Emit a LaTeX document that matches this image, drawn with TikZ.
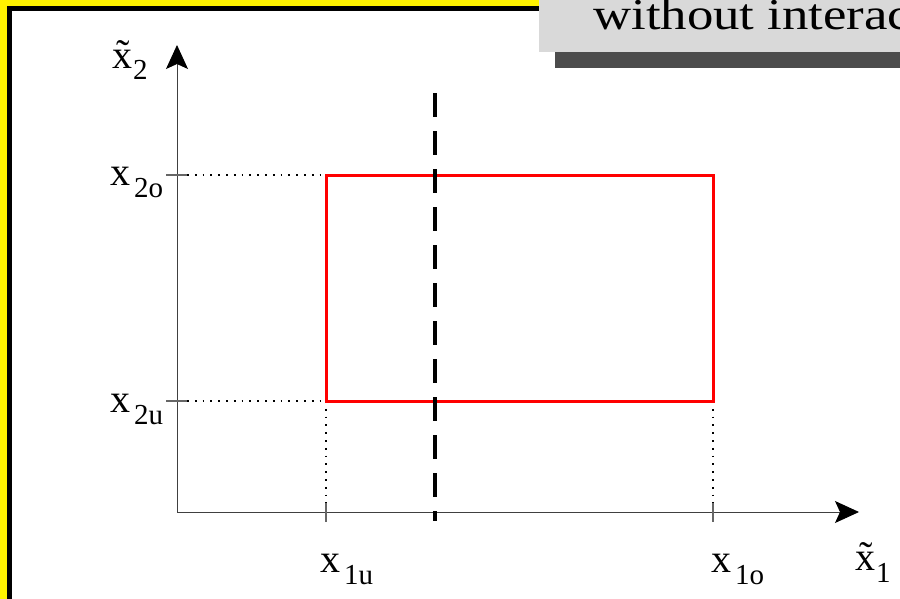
\documentclass[tikz,border=0pt]{standalone}
\usepackage{fontspec}
\setmainfont{Liberation Serif}
\usetikzlibrary{arrows.meta}
\newcommand\mainsz{\fontsize{40}{40}\selectfont}
\newcommand\subsz{\fontsize{29}{29}\selectfont}
\newcommand\varlbl[2]{#1\hspace{4pt}\raisebox{-12pt}{\subsz #2}}
\begin{document}
\begin{tikzpicture}[x=1pt,y=-1pt,
  axis/.style={draw=black!75,line width=0.9pt},
  arr/.style={-{Stealth[length=24pt,width=22pt,inset=5pt,color=black]}},
  tick/.style={draw=black!60,line width=1.2pt},
  guide/.style={draw=black,line width=1.8pt,dash pattern=on 1.8pt off 6pt},
  box/.style={draw=red,line width=3pt},
  cut/.style={draw=black,line width=4.5pt,dash pattern=on 24pt off 14pt},
  lbl/.style={inner sep=0pt,font=\mainsz,anchor=base west}]
\useasboundingbox (0,0) rectangle (900,598);
\clip (0,0) rectangle (900,598);
\fill[white] (0,0) rectangle (900,598);
% frame
\fill[yellow] (0,0) rectangle (910,610);
\fill[black] (7,6) rectangle (905,605);
\fill[white] (12,11) rectangle (900,600);
% title box
\fill[black!70] (555,52) rectangle (910,68);
\fill[black!15] (539,-10) rectangle (910,52);
\node[inner sep=0pt,anchor=base west] (title) at (593,29) {\fontsize{44}{44}\selectfont\scalebox{1.2}[1]{without interaction}};
% coordinates
\coordinate (O) at (177,512);
\coordinate (ytop) at (177,45);
\coordinate (xend) at (859,512);
\coordinate (a) at (326,175);
\coordinate (b) at (713,175);
\coordinate (c) at (713,401);
\coordinate (d) at (326,401);
\coordinate (t2o) at (187,175);
\coordinate (t2u) at (187,401);
\coordinate (t1u) at (326,503);
\coordinate (t1o) at (713,503);
\coordinate (ctop) at (435,93);
\coordinate (cbot) at (435,521);
% axes
\draw[axis,arr] (O) -- (ytop);
\draw[axis,arr] (O) -- (xend);
% ticks
\draw[tick] (166,175) -- (t2o);
\draw[tick] (166,401) -- (t2u);
\draw[tick] (326,503) -- (326,522);
\draw[tick] (713,503) -- (713,522);
% guides
\draw[guide] (t2o) -- (a);
\draw[guide] (t2u) -- (d);
\draw[guide] (d) -- (t1u);
\draw[guide] (c) -- (t1o);
% rectangle
\draw[box] (a) -- (b) -- (c) -- (d) -- cycle;
% cut line
\draw[cut] (ctop) -- (cbot);
% labels
\node[lbl] (lx2) at (112,68) {\~x\hspace{1pt}\raisebox{-11pt}{\subsz 2}};
\node[lbl] (lx2o) at (110,185) {\varlbl{x}{2o}};
\node[lbl] (lx2u) at (110,412) {\varlbl{x}{2u}};
\node[lbl] (lx1u) at (320,572) {\varlbl{x}{1u}};
\node[lbl] (lx1o) at (711,572) {\varlbl{x}{1o}};
\node[lbl] (lx1) at (855,570) {\~x\hspace{1pt}\raisebox{-12pt}{\subsz 1}};
\end{tikzpicture}
\end{document}
